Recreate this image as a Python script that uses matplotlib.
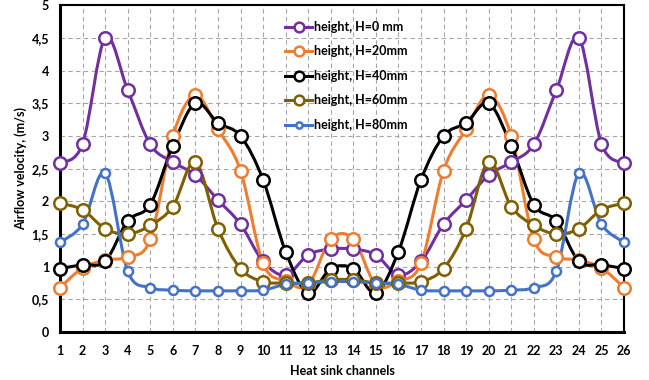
import numpy as np
import matplotlib.pyplot as plt
from matplotlib.path import Path
from matplotlib.patches import PathPatch
from matplotlib.lines import Line2D

plt.rcParams['font.family'] = ['Lato', 'DejaVu Sans']
plt.rcParams['font.weight'] = 'bold'

channels = list(range(1, 27))
h0 = [2.58, 2.88, 4.50, 3.70, 2.87, 2.60, 2.40, 2.02, 1.65, 1.08, 0.87, 1.18, 1.27,
      1.27, 1.18, 0.87, 1.08, 1.65, 2.02, 2.40, 2.60, 2.87, 3.70, 4.50, 2.88, 2.58]
h20 = [0.68, 0.98, 1.10, 1.15, 1.42, 3.00, 3.62, 3.10, 2.47, 1.05, 0.78, 0.72, 1.42,
       1.42, 0.72, 0.78, 1.05, 2.47, 3.10, 3.62, 3.00, 1.42, 1.15, 1.10, 0.98, 0.68]
h40 = [0.97, 1.03, 1.08, 1.70, 1.95, 2.85, 3.50, 3.20, 3.00, 2.33, 1.23, 0.60, 0.97,
       0.97, 0.60, 1.23, 2.33, 3.00, 3.20, 3.50, 2.85, 1.95, 1.70, 1.08, 1.03, 0.97]
h60 = [1.97, 1.87, 1.58, 1.50, 1.63, 1.92, 2.60, 1.58, 0.97, 0.77, 0.75, 0.75, 0.80,
       0.80, 0.75, 0.75, 0.77, 0.97, 1.58, 2.60, 1.92, 1.63, 1.50, 1.58, 1.87, 1.97]
h80 = [1.37, 1.65, 2.43, 0.93, 0.68, 0.64, 0.63, 0.63, 0.63, 0.64, 0.73, 0.75, 0.77,
       0.77, 0.75, 0.73, 0.64, 0.63, 0.63, 0.63, 0.64, 0.68, 0.93, 2.43, 1.65, 1.37]

labels = ["height, H=0 mm", "height, H=20mm", "height, H=40mm",
          "height, H=60mm", "height, H=80mm"]
colors = ["#7030A0", "#ED7D31", "#000000", "#7F6000", "#4472C4"]
msizes = [9, 9, 9, 9, 6.5]


def smooth_path(x, y):
    # Excel-style smoothed line: cubic Bezier through the points
    x = np.asarray(x, float)
    y = np.asarray(y, float)
    pts = np.column_stack([x, y])
    n = len(pts)
    verts = [pts[0]]
    codes = [Path.MOVETO]
    for i in range(n - 1):
        p0 = pts[i - 1] if i > 0 else pts[i]
        p1 = pts[i]
        p2 = pts[i + 1]
        p3 = pts[i + 2] if i + 2 < n else pts[i + 1]
        c1 = p1 + (p2 - p0) / 6.0
        c2 = p2 - (p3 - p1) / 6.0
        verts += [c1, c2, p2]
        codes += [Path.CURVE4] * 3
    return Path(verts, codes)


fig = plt.figure(figsize=(6.49, 3.8), dpi=100)
ax = fig.add_axes([0.0925, 0.1263, 0.869, 0.86])

series = [h0, h20, h40, h60, h80]
handles = []
for vals, c, lab, ms in zip(series, colors, labels, msizes):
    patch = PathPatch(smooth_path(channels, vals), facecolor='none',
                      edgecolor=c, lw=2.2, zorder=3)
    ax.add_patch(patch)
    ax.plot(channels, vals, ls='none', marker='o', ms=ms, mfc='white',
            mec=c, mew=1.8, zorder=4, clip_on=False)
    handles.append(Line2D([], [], color=c, lw=2.2, marker='o', ms=ms - 2,
                          mfc='white', mec=c, mew=1.8))

ax.set_xlim(1, 26)
ax.set_ylim(0, 5)
ax.set_xticks(channels)
ax.set_yticks(np.arange(0, 5.01, 0.5))
ax.set_yticklabels(["0", "0,5", "1", "1,5", "2", "2,5", "3", "3,5", "4", "4,5", "5"])
ax.tick_params(axis='both', length=0, labelsize=9, pad=8)
ax.tick_params(axis='x', pad=9)
for t in ax.get_xticklabels() + ax.get_yticklabels():
    t.set_fontweight('bold')

ax.grid(True, ls=(0, (4, 3)), color='#A6A6A6', lw=0.8)
ax.set_axisbelow(True)
for side in ['left', 'bottom']:
    ax.spines[side].set_linewidth(2.2)
for side in ['top', 'right']:
    ax.spines[side].set_linewidth(1.5)

ax.set_xlabel("Heat sink channels", fontsize=9, fontweight='bold', labelpad=6)
ax.set_ylabel("Airflow velocity, (m/s)", fontsize=9, fontweight='bold', labelpad=3)

leg = ax.legend(handles, labels, loc='upper left', bbox_to_anchor=(0.39, 0.967),
                frameon=False, fontsize=9, handlelength=2.2, handletextpad=0.1,
                labelspacing=1.0, borderaxespad=0)
for t in leg.get_texts():
    t.set_fontweight('bold')

fig.savefig("out.png", dpi=100)
